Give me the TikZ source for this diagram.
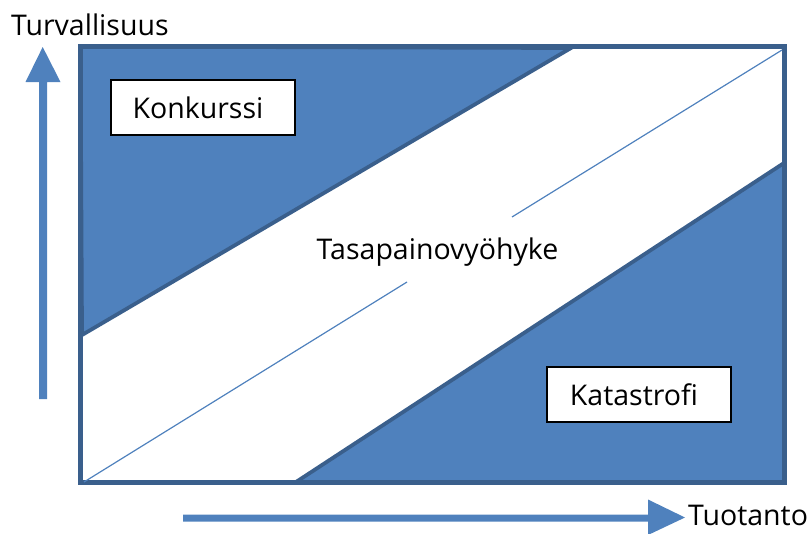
\documentclass[tikz,border=0pt]{standalone}
\usepackage{fontspec}
\setmainfont{Open Sans}
\definecolor{fillblue}{HTML}{4F81BD}
\definecolor{edgeblue}{HTML}{3A5F8C}
\tikzset{
  zone/.style={fill=fillblue, draw=edgeblue, line width=3.8pt, line join=miter},
  frame/.style={draw=edgeblue, line width=5pt},
  label/.style={inner sep=0pt, font=\fontsize{28.5}{34}\selectfont},
  regionbox/.style={draw=black, line width=1.2pt, fill=white, minimum width=184pt, minimum height=55pt, inner sep=0pt, font=\fontsize{28.5}{34}\selectfont},
  axisarrow/.style={fill=fillblue, draw=none},
  midline/.style={draw=fillblue, line width=1.2pt}
}
\begin{document}
\begin{tikzpicture}[x=1pt,y=-1pt]
\useasboundingbox (0,0) rectangle (811,533);
% zones
\draw[zone] (80.5,46.5) -- (571,48) -- (82,335) -- cycle;
\draw[zone] (296,482) -- (784,163) -- (784,482.5) -- cycle;
% frame
\draw[frame] (80.5,46.5) rectangle (784,482.5);
% balance line with gap for label
\coordinate (l0) at (84,482);
\coordinate (l1) at (407,282);
\coordinate (l2) at (512,217);
\coordinate (l3) at (782,50);
\draw[midline] (l0) -- (l1);
\draw[midline] (l2) -- (l3);
\node[label, anchor=base] (mid) at (437.5,259) {Tasapainovyöhyke};
% boxes
\node[regionbox] (konk) at (203,107.5) {\hspace*{-10pt}Konkurssi};
\node[regionbox] (kata) at (639,394.5) {\hspace*{-10pt}Katastrofi};
% axis arrows
\path[axisarrow] (39,399) -- (39,82) -- (25.5,82) -- (42.7,47) -- (60.5,82) -- (47,82) -- (47,399) -- cycle;
\path[axisarrow] (183,514.5) -- (648,514.5) -- (648,499.5) -- (685,517.5) -- (648,535) -- (648,521.5) -- (183,521.5) -- cycle;
% axis labels
\node[label, anchor=base west] (ylab) at (11,35) {Turvallisuus};
\node[label, anchor=base west] (xlab) at (688,525) {Tuotanto};
\end{tikzpicture}
\end{document}
